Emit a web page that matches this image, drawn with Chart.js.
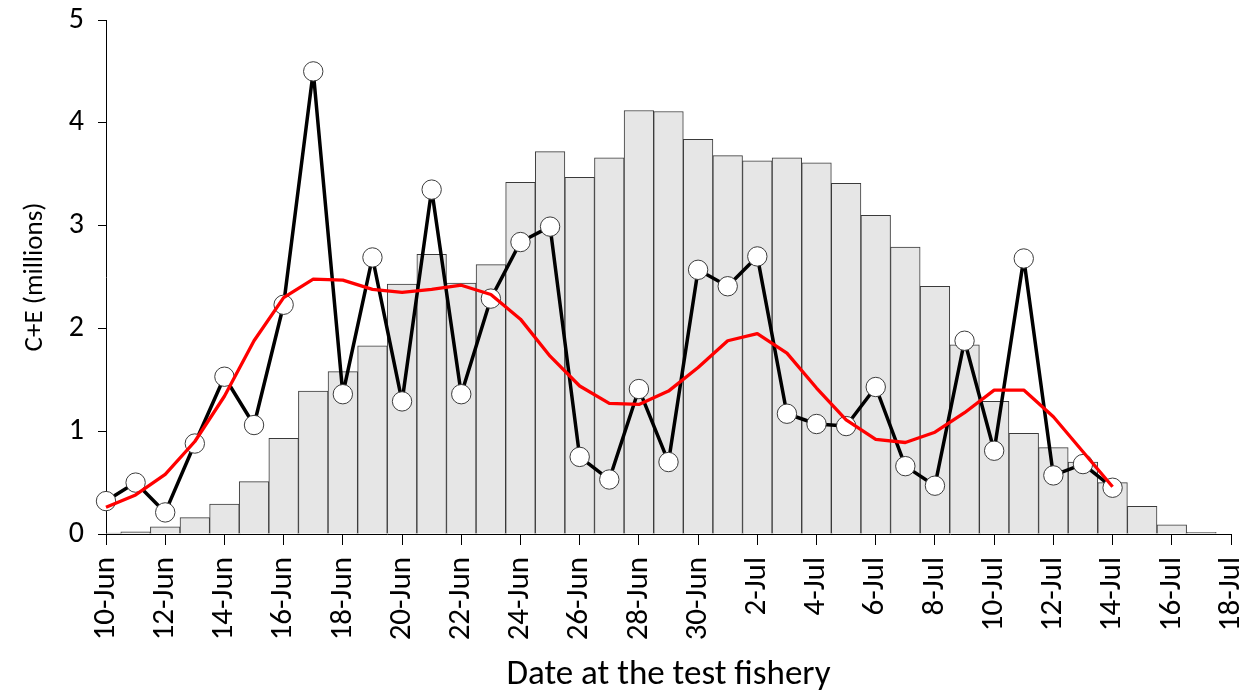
<!DOCTYPE html>
<html>
<head>
<meta charset="utf-8">
<script src="https://cdn.jsdelivr.net/npm/chart.js@4/dist/chart.umd.min.js"></script>
<style>
  html, body { margin: 0; padding: 0; background: #fff; }
  #c { display: block; }
</style>
</head>
<body>
<canvas id="c" width="1257" height="696"></canvas>
<script>
// Tick labels along the date axis (every second day, 10-Jun .. 18-Jul)
const tickLabels = ['10-Jun','12-Jun','14-Jun','16-Jun','18-Jun','20-Jun','22-Jun','24-Jun',
  '26-Jun','28-Jun','30-Jun','2-Jul','4-Jul','6-Jul','8-Jul','10-Jul','12-Jul','14-Jul',
  '16-Jul','18-Jul'];

// Daily run curve (bars), day 0 = 10-Jun .. 17-Jul, millions
const runCurve = [0.01, 0.02, 0.07, 0.16, 0.29, 0.51, 0.93, 1.39, 1.58, 1.83,
  2.43, 2.72, 2.44, 2.62, 3.42, 3.72, 3.47, 3.66, 4.12, 4.11,
  3.84, 3.68, 3.63, 3.66, 3.61, 3.41, 3.10, 2.79, 2.41, 1.84,
  1.29, 0.98, 0.84, 0.70, 0.50, 0.27, 0.09, 0.017];

// Daily C+E estimates at the test fishery, 10-Jun .. 14-Jul
const dailyCE = [0.32, 0.50, 0.21, 0.88, 1.53, 1.06, 2.23, 4.50, 1.36, 2.69,
  1.29, 3.35, 1.36, 2.29, 2.84, 2.99, 0.75, 0.53, 1.41, 0.70,
  2.57, 2.41, 2.70, 1.17, 1.07, 1.05, 1.43, 0.66, 0.47, 1.88,
  0.81, 2.68, 0.57, 0.68, 0.45];

// Smoothed C+E, 10-Jun .. 14-Jul
const smoothCE = [0.26, 0.38, 0.58, 0.90, 1.34, 1.88, 2.30, 2.48, 2.47, 2.38,
  2.35, 2.38, 2.42, 2.33, 2.09, 1.73, 1.44, 1.27, 1.26, 1.39,
  1.62, 1.88, 1.95, 1.76, 1.42, 1.11, 0.92, 0.89, 0.99, 1.18,
  1.40, 1.40, 1.14, 0.80, 0.46];

const yTicks = [0, 1, 2, 3, 4, 5];

const toXY = arr => arr.map((v, i) => ({ x: i, y: v }));
const FONT = 'Carlito, Lato, "Liberation Sans", sans-serif';

new Chart(document.getElementById('c'), {
  type: 'bar',
  data: {
    datasets: [
      {
        type: 'line',
        data: toXY(smoothCE),
        borderColor: '#ff0000',
        borderWidth: 3.3,
        borderJoinStyle: 'round',
        pointRadius: 0,
        tension: 0,
        clip: false,
        order: 0
      },
      {
        type: 'line',
        data: toXY(dailyCE),
        borderColor: '#000000',
        borderWidth: 3.5,
        borderJoinStyle: 'round',
        pointRadius: 9.7,
        pointBackgroundColor: '#ffffff',
        pointBorderColor: '#3c3c3c',
        pointBorderWidth: 1,
        tension: 0,
        clip: false,
        order: 1
      },
      {
        type: 'bar',
        data: toXY(runCurve),
        backgroundColor: '#e6e6e6',
        borderColor: '#3a3a3a',
        borderWidth: 1,
        barPercentage: 1,
        categoryPercentage: 1,
        grouped: false,
        clip: 0,
        order: 2
      }
    ]
  },
  options: {
    responsive: false,
    animation: false,
    events: [],
    layout: { padding: { left: 0, right: 26, top: 20, bottom: 0 } },
    plugins: { legend: { display: false }, tooltip: { enabled: false } },
    scales: {
      x: {
        type: 'linear',
        min: 0,
        max: 38,
        offset: false,
        afterFit: s => { s.height = 162; s.paddingLeft = 0; s.paddingRight = 0; },
        grid: { display: true, offset: false, drawOnChartArea: false, drawTicks: true, tickLength: 11, color: '#000', lineWidth: 1 },
        border: { display: true, color: '#000', width: 1 },
        ticks: {
          stepSize: 2,
          autoSkip: false,
          minRotation: 90,
          maxRotation: 90,
          padding: 12,
          color: '#000',
          font: { family: FONT, size: 31 },
          callback: v => (v % 2 === 0 ? tickLabels[v / 2] : '')
        },
        title: {
          display: true,
          text: 'Date at the test fishery',
          color: '#000',
          font: { family: FONT, size: 35 },
          padding: { top: 0, bottom: 0 }
        }
      },
      y: {
        min: 0,
        max: 5,
        afterFit: s => { s.width = 106; s.paddingTop = 0; s.paddingBottom = 0; },
        afterBuildTicks: s => { s.ticks = yTicks.map(v => ({ value: v })); },
        grid: { display: true, drawOnChartArea: false, drawTicks: true, tickLength: 8, color: '#000', lineWidth: 1 },
        border: { display: true, color: '#000', width: 1 },
        ticks: {
          padding: 14,
          color: '#000',
          font: { family: FONT, size: 30 },
          callback: v => String(v)
        },
        title: {
          display: true,
          text: 'C+E (millions)',
          color: '#000',
          font: { family: FONT, size: 27 },
          padding: { top: 19, bottom: 0 }
        }
      }
    }
  }
});
</script>
</body>
</html>
